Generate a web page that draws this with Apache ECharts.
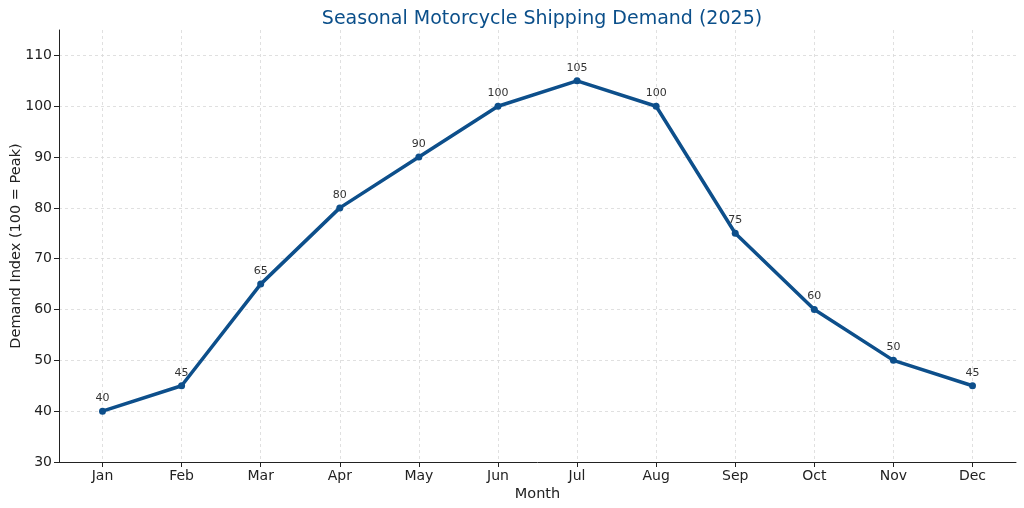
<!DOCTYPE html>
<html><head><meta charset="utf-8">
<script src="https://cdn.jsdelivr.net/npm/echarts@6/dist/echarts.min.js"></script>
<style>html,body{margin:0;padding:0;background:#fff}#c{width:1024px;height:508px}</style>
</head><body><div id="c"></div>
<script>
var months = ['Jan','Feb','Mar','Apr','May','Jun','Jul','Aug','Sep','Oct','Nov','Dec'];
var demand = [40,45,65,80,90,100,105,100,75,60,50,45];
var yTicks = [30,40,50,60,70,80,90,100,110];

var xIdx = months.map(function(m,i){return i;});
var pts = demand.map(function(v,i){return [i,v];});
var font = 'DejaVu Sans';
var chart = echarts.init(document.getElementById('c'));
chart.setOption({
  animation:false,
  backgroundColor:'#fff',
  title:{text:'Seasonal Motorcycle Shipping Demand (2025)',left:537,textAlign:'center',top:5,
    textStyle:{fontFamily:font,fontSize:19,fontWeight:'normal',color:'#0b4f8a'}},
  grid:{left:59,right:8,top:30,bottom:46,containLabel:false,outerBoundsMode:'none'},
  xAxis:{type:'value',min:-0.55,max:11.55,name:'Month',nameLocation:'middle',nameGap:25,nameMoveOverlap:false,
    nameTextStyle:{fontFamily:font,fontSize:14.5,color:'#222'},
    axisLine:{show:true,onZero:false,lineStyle:{color:'#222',width:1}},
    axisTick:{show:true,length:5,customValues:xIdx,lineStyle:{color:'#222'}},
    axisLabel:{customValues:xIdx,formatter:function(v){return months[Math.round(v)]||'';},
      fontFamily:font,fontSize:14,color:'#222',margin:7},
    splitLine:{show:true,lineStyle:{color:'#d9d9d9',type:[3,3],width:0.8}}},
  yAxis:{type:'value',min:30,max:115,name:'Demand Index (100 = Peak)',nameLocation:'middle',nameGap:35,nameMoveOverlap:false,
    nameTextStyle:{fontFamily:font,fontSize:14.5,color:'#222'},
    axisLine:{show:true,onZero:false,lineStyle:{color:'#222',width:1}},
    axisTick:{show:true,length:5,customValues:yTicks,lineStyle:{color:'#222'}},
    axisLabel:{customValues:yTicks,fontFamily:font,fontSize:14,color:'#222',margin:7},
    splitLine:{show:true,lineStyle:{color:'#d9d9d9',type:[3,3],width:0.8}}},
  series:[{type:'line',data:pts,symbol:'circle',symbolSize:7,
    lineStyle:{color:'#0d4f8b',width:3.5},itemStyle:{color:'#0d4f8b'},
    label:{show:true,position:'top',distance:4,fontFamily:font,fontSize:11,color:'#333',
      formatter:function(p){return p.value[1];}}}]
});
</script></body></html>
